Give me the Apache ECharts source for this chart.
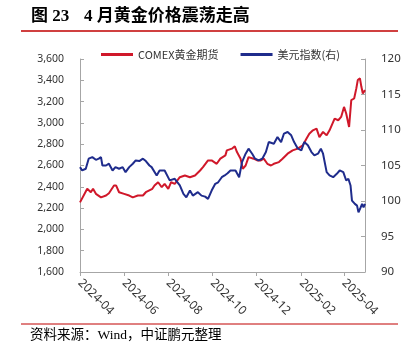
<!DOCTYPE html>
<html>
<head>
<meta charset="utf-8">
<script src="https://cdn.jsdelivr.net/npm/echarts@6/dist/echarts.min.js"></script>
<style>
  html, body { margin: 0; padding: 0; background: #fff; }
  #chart { width: 410px; height: 352px; }
</style>
</head>
<body>
<div id="chart"></div>
<script>
// 横轴: 自然日，标签每两个月一次
const firstDay = '2024-04-01'
const lastDay = '2025-04-30'
const tickLabels = ['2024-04', '2024-06', '2024-08', '2024-10', '2024-12', '2025-02', '2025-04']

// COMEX黄金期货 (左轴)
const goldDates = [
  '2024-04-01', '2024-04-11', '2024-04-16', '2024-04-19', '2024-04-23', '2024-04-30',
  '2024-05-07', '2024-05-11', '2024-05-18', '2024-05-21', '2024-05-25', '2024-06-01',
  '2024-06-08', '2024-06-13', '2024-06-20', '2024-06-27', '2024-07-01', '2024-07-10',
  '2024-07-13', '2024-07-18', '2024-07-23', '2024-07-27', '2024-08-01', '2024-08-05',
  '2024-08-10', '2024-08-17', '2024-08-24', '2024-08-31', '2024-09-07', '2024-09-14',
  '2024-09-18', '2024-09-25', '2024-09-30', '2024-10-07', '2024-10-12', '2024-10-19',
  '2024-10-21', '2024-10-28', '2024-11-01', '2024-11-04', '2024-11-09', '2024-11-12',
  '2024-11-16', '2024-11-20', '2024-11-27', '2024-12-02', '2024-12-07', '2024-12-11',
  '2024-12-16', '2024-12-21', '2024-12-25', '2025-01-01', '2025-01-06', '2025-01-13',
  '2025-01-20', '2025-01-27', '2025-01-29', '2025-02-03', '2025-02-08', '2025-02-12',
  '2025-02-17', '2025-02-22', '2025-02-26', '2025-03-03', '2025-03-08', '2025-03-12',
  '2025-03-16', '2025-03-19', '2025-03-24', '2025-03-28', '2025-04-01', '2025-04-04',
  '2025-04-08', '2025-04-11', '2025-04-15', '2025-04-18', '2025-04-20', '2025-04-23',
  '2025-04-25', '2025-04-27', '2025-04-30'
]
const goldValues = [
  2254, 2381, 2349, 2381, 2334, 2301,
  2318, 2340, 2412, 2412, 2349, 2334,
  2318, 2301, 2318, 2318, 2349, 2381,
  2412, 2443, 2396, 2428, 2381, 2443,
  2428, 2490, 2506, 2490, 2506, 2553,
  2584, 2648, 2648, 2616, 2664, 2695,
  2742, 2758, 2780, 2726, 2664, 2569,
  2600, 2679, 2664, 2648, 2648, 2664,
  2616, 2600, 2616, 2632, 2664, 2711,
  2742, 2758, 2742, 2789, 2852, 2899,
  2930, 2946, 2867, 2915, 2883, 2930,
  2994, 3041, 3025, 3056, 3150, 3088,
  2962, 3213, 3229, 3324, 3402, 3418,
  3339, 3276, 3308
]

// 美元指数 (右轴)
const usdDates = [
  '2024-04-01', '2024-04-04', '2024-04-09', '2024-04-13', '2024-04-18', '2024-04-23',
  '2024-04-27', '2024-04-30', '2024-05-02', '2024-05-07', '2024-05-11', '2024-05-16',
  '2024-05-20', '2024-05-25', '2024-05-30', '2024-06-03', '2024-06-08', '2024-06-13',
  '2024-06-17', '2024-06-22', '2024-06-27', '2024-07-01', '2024-07-06', '2024-07-09',
  '2024-07-11', '2024-07-16', '2024-07-20', '2024-07-27', '2024-08-03', '2024-08-10',
  '2024-08-17', '2024-08-22', '2024-08-26', '2024-08-31', '2024-09-04', '2024-09-11',
  '2024-09-16', '2024-09-21', '2024-09-25', '2024-09-30', '2024-10-05', '2024-10-09',
  '2024-10-14', '2024-10-18', '2024-10-22', '2024-10-26', '2024-11-02', '2024-11-07',
  '2024-11-11', '2024-11-16', '2024-11-20', '2024-11-25', '2024-11-29', '2024-12-04',
  '2024-12-09', '2024-12-14', '2024-12-18', '2024-12-25', '2024-12-30', '2025-01-04',
  '2025-01-08', '2025-01-13', '2025-01-18', '2025-01-22', '2025-01-27', '2025-02-01',
  '2025-02-05', '2025-02-10', '2025-02-15', '2025-02-19', '2025-02-24', '2025-02-28',
  '2025-03-03', '2025-03-08', '2025-03-12', '2025-03-17', '2025-03-22', '2025-03-26',
  '2025-03-31', '2025-04-04', '2025-04-07', '2025-04-10', '2025-04-12', '2025-04-16',
  '2025-04-19', '2025-04-21', '2025-04-24', '2025-04-26', '2025-04-28', '2025-04-30'
]
const usdValues = [
  104.77, 104.3, 104.54, 105.96, 106.18, 105.8,
  105.96, 106.18, 105.0, 105.0, 105.25, 104.3,
  104.77, 104.54, 104.77, 104.06, 104.77, 105.25,
  105.71, 105.62, 105.96, 105.62, 105.0, 104.77,
  104.54, 103.6, 104.3, 104.3, 102.9, 103.13,
  102.2, 101.0, 100.52, 101.47, 100.76, 101.24,
  100.76, 100.62, 100.3, 101.47, 102.42, 102.64,
  103.35, 103.6, 103.9, 104.3, 104.3, 103.35,
  105.47, 106.66, 107.37, 106.66, 105.96, 105.71,
  105.96, 106.89, 108.3, 108.07, 109.0, 108.3,
  109.5, 109.72, 109.25, 108.3, 107.4, 107.13,
  108.3, 107.84, 106.89, 106.42, 106.66, 107.37,
  106.66, 104.06, 103.6, 103.35, 103.83, 104.3,
  104.06, 102.89, 103.13, 102.18, 100.06, 99.59,
  99.35, 98.4, 99.1, 99.59, 99.1, 99.59
]

// 生成自然日类目
function buildDays(from, to) {
  const list = []
  const d = new Date(from + 'T00:00:00Z')
  const end = new Date(to + 'T00:00:00Z')
  while (d <= end) {
    list.push(d.toISOString().slice(0, 10))
    d.setUTCDate(d.getUTCDate() + 1)
  }
  return list
}
const days = buildDays(firstDay, lastDay)

function isTickDay(idx, val) {
  return val.slice(8) === '01' && tickLabels.indexOf(val.slice(0, 7)) !== -1
}

const red = '#d0182a'
const blue = '#1f2c8c'
const axisGray = '#a6a6a6'

var myChart = echarts.init(document.getElementById('chart'))
var option = {
  animation: false,
  backgroundColor: '#fff',
  legend: {
    left: 96,
    top: 44,
    itemWidth: 32,
    itemHeight: 3,
    itemGap: 22,
    icon: 'rect',
    textStyle: { fontSize: 11, color: '#333', fontFamily: 'Noto Sans CJK SC' },
    data: ['COMEX黄金期货', '美元指数(右)']
  },
  grid: {
    left: 80,
    right: 45,
    top: 59,
    bottom: 80,
    outerBoundsMode: 'none'
  },
  xAxis: {
    type: 'category',
    data: days,
    boundaryGap: false,
    axisLine: { lineStyle: { color: axisGray, width: 1 } },
    axisTick: { interval: isTickDay, length: 4, lineStyle: { color: axisGray } },
    axisLabel: {
      interval: isTickDay,
      rotate: -45,
      margin: 9,
      fontSize: 12,
      color: '#333',
      fontFamily: 'Noto Sans',
      formatter: v => v.slice(0, 7)
    }
  },
  yAxis: [
    {
      type: 'value',
      min: 1600,
      max: 3600,
      interval: 200,
      splitLine: { show: false },
      axisLine: { show: true, lineStyle: { color: axisGray, width: 1 } },
      axisTick: { show: true, inside: true, length: 4, lineStyle: { color: axisGray } },
      axisLabel: {
        margin: 16,
        fontSize: 10.5,
        color: '#333',
        fontFamily: 'Noto Sans',
        formatter: v => Math.floor(v / 1000) + ',' + String(v % 1000).padStart(3, '0')
      }
    },
    {
      type: 'value',
      min: 90,
      max: 120,
      interval: 5,
      splitLine: { show: false },
      axisLine: { show: true, lineStyle: { color: axisGray, width: 1 } },
      axisTick: { show: true, inside: true, length: 4, lineStyle: { color: axisGray } },
      axisLabel: { margin: 16, fontSize: 11.5, color: '#333', fontFamily: 'Noto Sans' }
    }
  ],
  series: [
    {
      name: 'COMEX黄金期货',
      type: 'line',
      showSymbol: false,
      itemStyle: { color: red },
      lineStyle: { color: red, width: 2 },
      data: goldDates.map((d, i) => [d, goldValues[i]])
    },
    {
      name: '美元指数(右)',
      type: 'line',
      yAxisIndex: 1,
      showSymbol: false,
      itemStyle: { color: blue },
      lineStyle: { color: blue, width: 2 },
      data: usdDates.map((d, i) => [d, usdValues[i]])
    }
  ],
  graphic: [
    {
      type: 'text',
      left: 31,
      top: 8,
      style: { text: '图 23', font: 'bold 17px "Liberation Serif", "Noto Sans CJK SC"', fill: '#000' }
    },
    {
      type: 'text',
      left: 84,
      top: 8,
      style: { text: '4 月黄金价格震荡走高', font: 'bold 17px "Liberation Serif", "Noto Sans CJK SC"', fill: '#000' }
    },
    {
      type: 'line',
      shape: { x1: 21, y1: 31, x2: 398, y2: 31 },
      style: { stroke: '#c00000', lineWidth: 1.5 }
    },
    {
      type: 'line',
      shape: { x1: 21, y1: 324, x2: 398, y2: 324 },
      style: { stroke: '#c00000', lineWidth: 1 }
    },
    {
      type: 'text',
      left: 30,
      top: 329,
      style: { text: '资料来源：Wind，中证鹏元整理', font: '13.5px "Liberation Serif", "Noto Sans CJK SC"', fill: '#000' }
    }
  ]
}
option && myChart.setOption(option)
</script>
</body>
</html>
